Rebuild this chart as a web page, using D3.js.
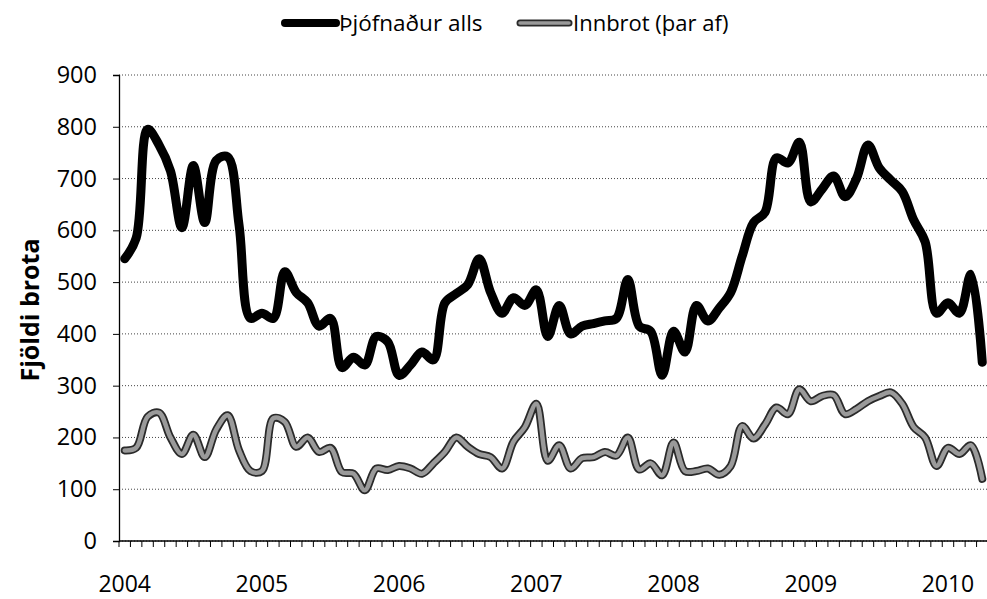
<!DOCTYPE html>
<html>
<head>
<meta charset="utf-8">
<script src="https://cdn.jsdelivr.net/npm/d3@7"></script>
<style>
  html, body { margin: 0; padding: 0; background: #fff; }
  svg { display: block; }
  text { font-family: "Open Sans", "Liberation Sans", sans-serif; fill: #000; }
</style>
</head>
<body>
<svg id="chart" width="987" height="599"></svg>
<script>
// ---- data ----
const years = [2004, 2005, 2006, 2007, 2008, 2009, 2010];
const monthsPerYear = 12;
const monthCount = 76; // Jan 2004 - Apr 2010
const categories = d3.range(monthCount).map(i => `${years[0] + Math.floor(i / 12)}-${String(i % 12 + 1).padStart(2, "0")}`);

const theftTotal = [
  545, 585, 795, 765, 715, 605, 725, 615, 735, 742, 610, 430,
  440, 430, 520, 480, 460, 415, 430, 335, 355, 340, 395, 385,
  320, 340, 365, 350, 460, 478, 495, 545, 480, 440, 470, 455,
  485, 395, 455, 400, 415, 420, 425, 430, 505, 415, 405, 320,
  405, 365, 455, 425, 450, 480, 550, 615, 635, 740, 730, 770,
  655, 680, 705, 665, 700, 765, 720, 697, 675, 620, 578, 440,
  460, 440, 515, 345
];
const burglary = [
  175, 180, 240, 248, 200, 168, 205, 162, 215, 243, 175, 135,
  135, 237, 230, 182, 200, 172, 180, 133, 130, 98, 140, 137,
  145, 140, 130, 150, 172, 200, 182, 168, 162, 140, 192, 220,
  265, 155, 185, 140, 160, 162, 172, 165, 200, 138, 150, 127,
  190, 135, 135, 140, 128, 145, 222, 198, 225, 258, 245, 293,
  270, 280, 282, 245, 255, 270, 280, 287, 265, 220, 200, 145,
  180, 168, 185, 120
];
const yTicks = [0, 100, 200, 300, 400, 500, 600, 700, 800, 900];
const seriesNames = ["Þjófnaður alls", "Innbrot (þar af)"];
const yTitle = "Fjöldi brota";

// ---- layout ----
const svg = d3.select("#chart");
const mLeft = 119, mRight = 988, mTop = 75, mBottom = 541;

const x = d3.scaleBand().domain(d3.range(monthCount)).range([mLeft, mRight]).paddingInner(0).paddingOuter(0);
const xc = i => x(i) + x.bandwidth() / 2;
const y = d3.scaleLinear().domain([0, 900]).range([mBottom, mTop]);

// gridlines
svg.append("g").selectAll("line").data(yTicks).join("line")
  .attr("x1", mLeft).attr("x2", mRight)
  .attr("y1", d => y(d)).attr("y2", d => y(d))
  .attr("stroke", "#444").attr("stroke-width", 1).attr("stroke-dasharray", "1,2");

// y axis
const yAxis = svg.append("g").attr("transform", `translate(${mLeft},0)`)
  .call(d3.axisLeft(y).tickValues(yTicks).tickSize(6).tickPadding(16));
yAxis.select(".domain").attr("stroke", "#000").attr("stroke-width", 1.3);
yAxis.selectAll(".tick line").attr("stroke", "#000");
yAxis.selectAll(".tick text").attr("font-size", 23.5).attr("font-family", "Open Sans").attr("fill", "#000");

// x axis: monthly tick marks at band boundaries
const xAxisG = svg.append("g");
xAxisG.append("line").attr("x1", mLeft).attr("x2", mRight).attr("y1", mBottom).attr("y2", mBottom)
  .attr("stroke", "#000").attr("stroke-width", 1.3);
xAxisG.selectAll("line.tk").data(d3.range(monthCount)).join("line").attr("class", "tk")
  .attr("x1", d => x(d)).attr("x2", d => x(d))
  .attr("y1", mBottom).attr("y2", mBottom + 6)
  .attr("stroke", "#000").attr("stroke-width", 1);
xAxisG.selectAll("text").data(years).join("text")
  .attr("x", d => xc((d - years[0]) * monthsPerYear))
  .attr("y", 592)
  .attr("text-anchor", "middle")
  .attr("font-size", 23)
  .text(d => d);

// y title
svg.append("text")
  .attr("transform", `translate(39,${(mTop + mBottom) / 2 + 2}) rotate(-90)`)
  .attr("text-anchor", "middle")
  .attr("font-size", 25).attr("font-weight", "bold")
  .text(yTitle);

// lines
const line = d3.line().x((d, i) => xc(i)).y(d => y(d)).curve(d3.curveCatmullRom.alpha(0.5));

svg.append("path").datum(burglary).attr("d", line)
  .attr("fill", "none").attr("stroke", "#2a2a2a").attr("stroke-width", 8)
  .attr("stroke-linejoin", "round").attr("stroke-linecap", "round");
svg.append("path").datum(burglary).attr("d", line)
  .attr("fill", "none").attr("stroke", "#9a9a9a").attr("stroke-width", 4.5)
  .attr("stroke-linejoin", "round").attr("stroke-linecap", "round");

svg.append("path").datum(theftTotal).attr("d", line)
  .attr("fill", "none").attr("stroke", "#000").attr("stroke-width", 9)
  .attr("stroke-linejoin", "round").attr("stroke-linecap", "round");

// legend
const leg = svg.append("g");
leg.append("line").attr("x1", 285).attr("x2", 336).attr("y1", 23).attr("y2", 23)
  .attr("stroke", "#000").attr("stroke-width", 8).attr("stroke-linecap", "round");
leg.append("text").attr("x", 339).attr("y", 31).attr("font-size", 22.5).text(seriesNames[0]);
leg.append("line").attr("x1", 520).attr("x2", 569).attr("y1", 23).attr("y2", 23)
  .attr("stroke", "#2a2a2a").attr("stroke-width", 7).attr("stroke-linecap", "round");
leg.append("line").attr("x1", 520).attr("x2", 569).attr("y1", 23).attr("y2", 23)
  .attr("stroke", "#9a9a9a").attr("stroke-width", 3.5).attr("stroke-linecap", "round");
leg.append("text").attr("x", 573).attr("y", 31).attr("font-size", 22).text(seriesNames[1]);
</script>
</body>
</html>
